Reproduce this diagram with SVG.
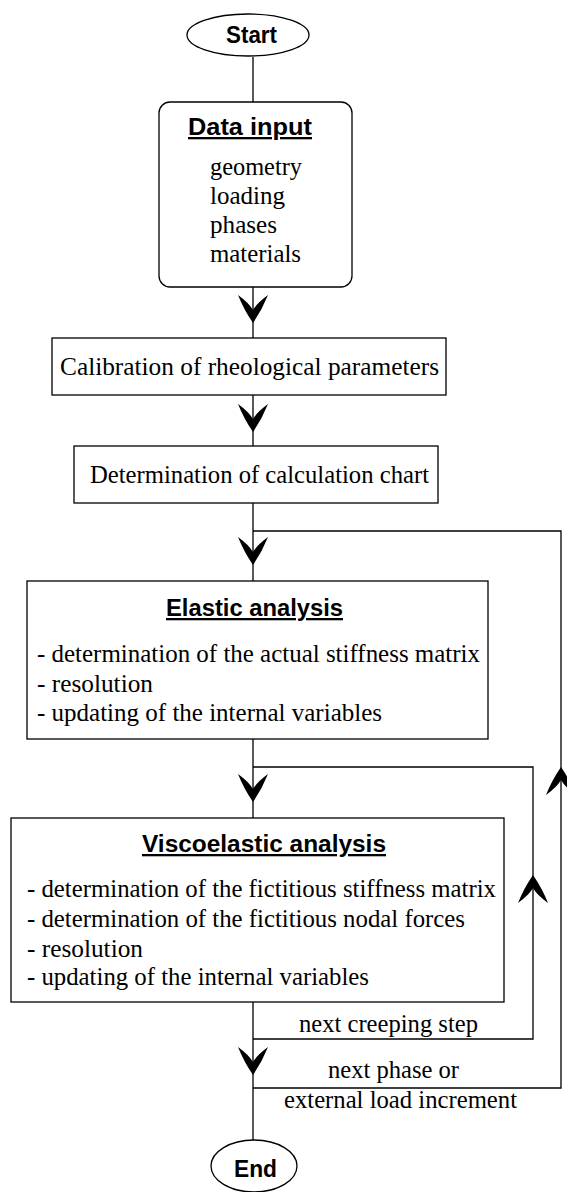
<svg xmlns="http://www.w3.org/2000/svg" width="567" height="1192" viewBox="0 0 567 1192">
<style>
.box{fill:#fff;stroke:#000;stroke-width:1.3}
.ln{fill:none;stroke:#000;stroke-width:1.3}
.t{font-family:"Liberation Serif","Times New Roman",serif;font-size:24.5px;fill:#000}
.h{font-family:"Liberation Sans",Arial,sans-serif;font-weight:bold;font-size:23px;fill:#000;text-decoration:underline}
.b{font-family:"Liberation Sans",Arial,sans-serif;font-weight:bold;font-size:24px;fill:#000}
</style>
<defs>
<path id="chev" d="M -15 -28 Q -9 -13 0 0 Q 9 -13 15 -28 Q 4 -20 0 -13 Q -4 -20 -15 -28 Z" fill="#000"/>
</defs>
<rect width="567" height="1192" fill="#fff"/>
<g id="connectors">
<line class="ln" x1="253" y1="57" x2="253" y2="102"/>
<line class="ln" x1="253" y1="287" x2="253" y2="338"/>
<line class="ln" x1="253" y1="395" x2="253" y2="446"/>
<line class="ln" x1="253" y1="503" x2="253" y2="581"/>
<line class="ln" x1="253" y1="739" x2="253" y2="818"/>
<line class="ln" x1="253" y1="1002" x2="253" y2="1140"/>
<polyline class="ln" points="253,531 561,531 561,1088 253,1088"/>
<polyline class="ln" points="253,767 533,767 533,1039 253,1039"/>
<use href="#chev" x="253" y="323"/>
<use href="#chev" x="253" y="432"/>
<use href="#chev" x="253" y="565"/>
<use href="#chev" x="253" y="802"/>
<use href="#chev" x="253" y="1075"/>
<use href="#chev" transform="translate(533,875) scale(1,-1)"/>
<use href="#chev" transform="translate(561,767) scale(1,-1)"/>
<text class="t" x="299" y="1032" textLength="179" lengthAdjust="spacingAndGlyphs">next creeping step</text>
<text class="t" x="328" y="1078" textLength="131" lengthAdjust="spacingAndGlyphs">next phase or</text>
<text class="t" x="284" y="1108" textLength="233" lengthAdjust="spacingAndGlyphs">external load increment</text>
</g>
<g id="start">
<ellipse class="box" cx="248" cy="35" rx="61" ry="21"/>
<text class="b" x="226" y="43" textLength="51" lengthAdjust="spacingAndGlyphs">Start</text>
</g>
<g id="data-input">
<rect class="box" x="159" y="102" width="193" height="185" rx="11"/>
<text class="h" x="188" y="135" textLength="124" lengthAdjust="spacingAndGlyphs">Data input</text>
<text class="t" x="210" y="175" textLength="92" lengthAdjust="spacingAndGlyphs">geometry</text>
<text class="t" x="210" y="204" textLength="75" lengthAdjust="spacingAndGlyphs">loading</text>
<text class="t" x="210" y="233" textLength="67" lengthAdjust="spacingAndGlyphs">phases</text>
<text class="t" x="210" y="262" textLength="91" lengthAdjust="spacingAndGlyphs">materials</text>
</g>
<g id="calibration">
<rect class="box" x="52" y="338" width="394" height="57"/>
<text class="t" x="60" y="375" textLength="379" lengthAdjust="spacingAndGlyphs">Calibration  of rheological parameters</text>
</g>
<g id="determination">
<rect class="box" x="74" y="446" width="364" height="57"/>
<text class="t" x="90" y="483" textLength="339" lengthAdjust="spacingAndGlyphs">Determination of calculation chart</text>
</g>
<g id="elastic">
<rect class="box" x="27" y="581" width="461" height="158"/>
<text class="h" x="166" y="616" textLength="177" lengthAdjust="spacingAndGlyphs">Elastic analysis</text>
<text class="t" x="37" y="662" textLength="443" lengthAdjust="spacingAndGlyphs">- determination of the actual stiffness matrix</text>
<text class="t" x="37" y="692" textLength="116" lengthAdjust="spacingAndGlyphs">- resolution</text>
<text class="t" x="37" y="721" textLength="345" lengthAdjust="spacingAndGlyphs">- updating of the internal variables</text>
</g>
<g id="viscoelastic">
<rect class="box" x="11" y="818" width="493" height="184"/>
<text class="h" x="142" y="852" textLength="244" lengthAdjust="spacingAndGlyphs">Viscoelastic analysis</text>
<text class="t" x="27" y="897" textLength="469" lengthAdjust="spacingAndGlyphs">- determination of the fictitious stiffness matrix</text>
<text class="t" x="27" y="927" textLength="438" lengthAdjust="spacingAndGlyphs">- determination of the fictitious nodal forces</text>
<text class="t" x="27" y="957" textLength="116" lengthAdjust="spacingAndGlyphs">- resolution</text>
<text class="t" x="27" y="985" textLength="342" lengthAdjust="spacingAndGlyphs">- updating of the internal variables</text>
</g>
<g id="end">
<ellipse class="box" cx="254" cy="1166" rx="43" ry="26"/>
<text class="b" x="234" y="1177" textLength="43" lengthAdjust="spacingAndGlyphs">End</text>
</g>
</svg>
